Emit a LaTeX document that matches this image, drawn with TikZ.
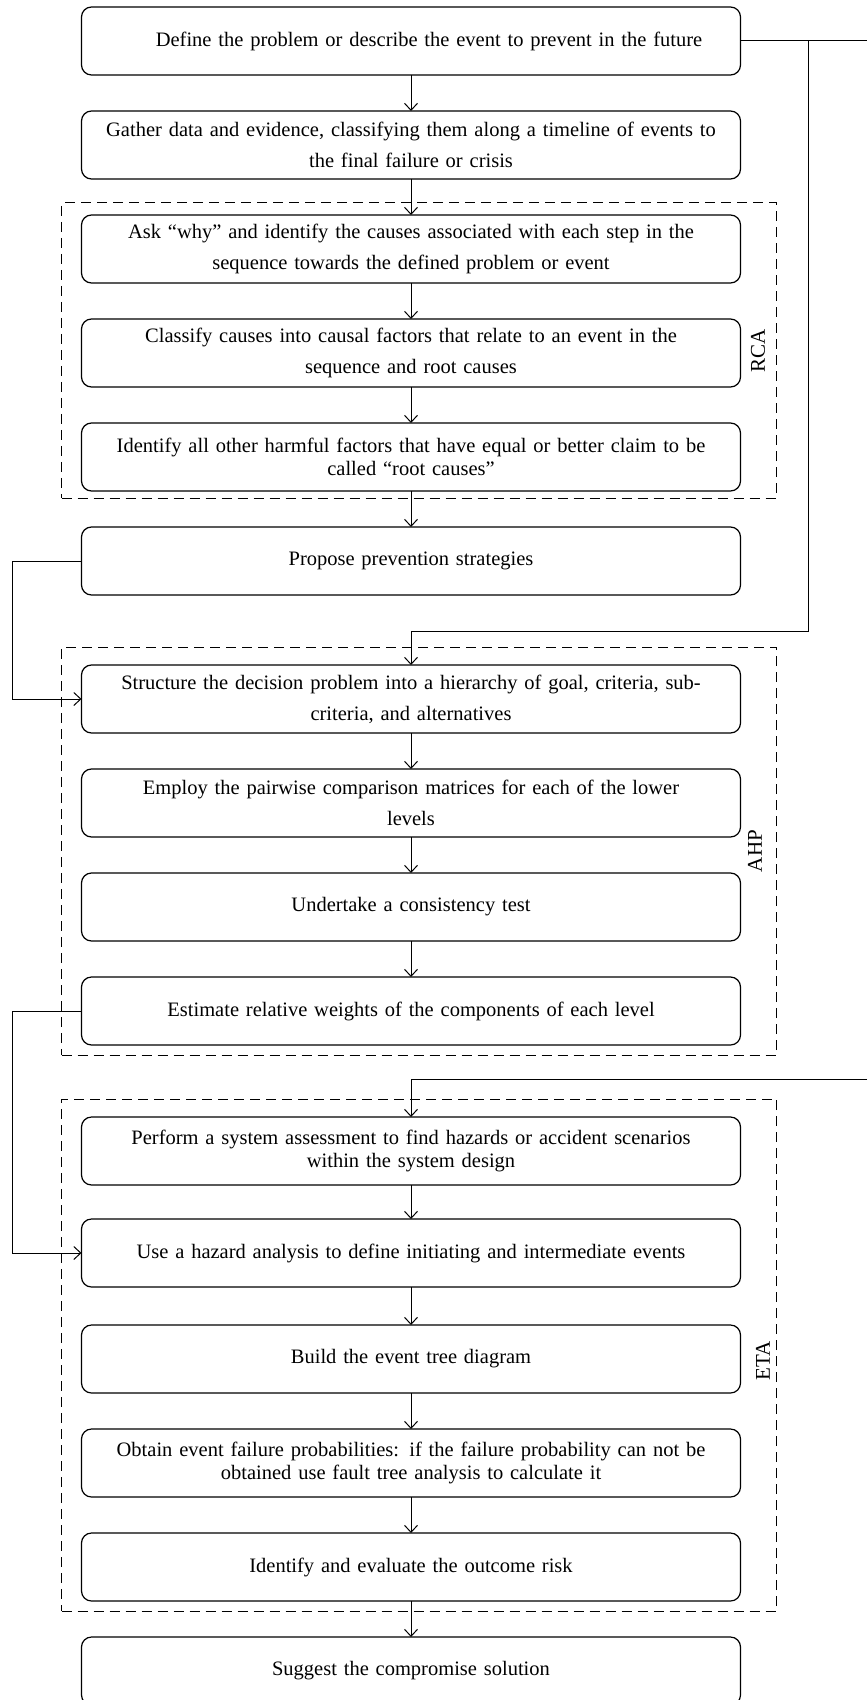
\documentclass[tikz,border=0pt]{standalone}
\usepackage{fontspec}
\setmainfont{Liberation Serif}
\usepackage{tikz}
\usetikzlibrary{arrows.meta,positioning,fit,calc}
\tikzset{
  box/.style={rectangle,rounded corners=5pt,draw,line width=0.6pt,fill=white,
              align=center,text width=319.5pt,inner xsep=5pt,minimum height=34pt,
              outer sep=0pt,font=\fontsize{10.25pt}{11.5pt}\selectfont},
  flow/.style={-{Straight Barb[length=3.5pt,width=6.5pt]},line width=0.5pt},
  group/.style={draw,dash pattern=on 5pt off 3pt,line width=0.5pt,inner sep=0pt},
  tag/.style={rotate=90,font=\fontsize{10.5pt}{12pt}\selectfont},
}

\begin{document}
\begin{tikzpicture}[x=0.5pt,y=-0.5pt]
  \useasboundingbox (0,0) rectangle (867,1700);
  \node[box] (define) at (411,41)
     {\hspace*{18pt}Define the problem or describe the event to prevent in the future};
  \node[box,below=18pt of define] (gather)
     {Gather data and evidence, classifying them along a timeline of events to\\[4pt]
      the final failure or crisis};
  \node[box,below=18pt of gather] (ask)
     {Ask “why” and identify the causes associated with each step in the\\[4pt]
      sequence towards the defined problem or event};
  \node[box,below=18pt of ask] (classify)
     {Classify causes into causal factors that relate to an event in the\\[4pt]
      sequence and root causes};
  \node[box,below=18pt of classify] (harm)
     {Identify all other harmful factors that have equal or better claim to be\\
      called “root causes”};
  \node[box,below=18pt of harm] (propose) {Propose prevention strategies};
  \node[box,below=35pt of propose] (structure)
     {Structure the decision problem into a hierarchy of goal, criteria, sub-\\[4pt]
      criteria, and alternatives};
  \node[box,below=18pt of structure] (pairwise)
     {Employ the pairwise comparison matrices for each of the lower\\[4pt]
      levels};
  \node[box,below=18pt of pairwise] (consist) {Undertake a consistency test};
  \node[box,below=18pt of consist] (weights)
     {Estimate relative weights of the components of each level};
  \node[box,below=36pt of weights] (assess)
     {Perform a system assessment to find hazards or accident scenarios\\
      within the system design};
  \node[box,below=17pt of assess] (hazard)
     {Use a hazard analysis to define initiating and intermediate events};
  \node[box,below=19pt of hazard] (tree) {Build the event tree diagram};
  \node[box,below=18pt of tree] (prob)
     {Obtain event failure probabilities: if the failure probability can not be\\
      obtained use fault tree analysis to calculate it};
  \node[box,below=18pt of prob] (risk) {Identify and evaluate the outcome risk};
  \node[box,below=18pt of risk] (suggest) {Suggest the compromise solution};

  \node[group,fit={($(ask.north west)+(-10pt,6pt)$) ($(harm.south east)+(18pt,-3.5pt)$)}] (rca) {};
  \node[tag] at ($(rca.east)+(-9.5pt,0)$) {RCA};
  \node[group,fit={($(structure.north west)+(-10pt,9pt)$) ($(weights.south east)+(18pt,-5pt)$)}] (ahp) {};
  \node[tag] at ($(ahp.east)+(-11pt,0)$) {AHP};
  \node[group,fit={($(assess.north west)+(-10pt,9pt)$) ($(risk.south east)+(18pt,-5pt)$)}] (eta) {};
  \node[tag] at ($(eta.east)+(-7pt,-3pt)$) {ETA};

  \draw[flow] (define) -- (gather);
  \draw[flow] (gather) -- (ask);
  \draw[flow] (ask) -- (classify);
  \draw[flow] (classify) -- (harm);
  \draw[flow] (harm) -- (propose);
  \draw[flow] (structure) -- (pairwise);
  \draw[flow] (pairwise) -- (consist);
  \draw[flow] (consist) -- (weights);
  \draw[flow] (assess) -- (hazard);
  \draw[flow] (hazard) -- (tree);
  \draw[flow] (tree) -- (prob);
  \draw[flow] (prob) -- (risk);
  \draw[flow] (risk) -- (suggest);

  \coordinate (edgeA) at (867,41);
  \coordinate (edgeB) at (867,1079);
  \coordinate (tapA) at ($(define.east)+(34pt,0)$);
  \draw[line width=0.5pt] (define.east) -- (edgeA);
  \draw[flow] (tapA) |- ($(structure.north)+(0,17pt)$) -- (structure.north);
  \draw[flow] (edgeB) -| (assess.north);
  \draw[flow] (propose.west) -- ++(-34.5pt,0) |- (structure.west);
  \draw[flow] (weights.west) -- ++(-34.5pt,0) |- (hazard.west);
\end{tikzpicture}
\end{document}
